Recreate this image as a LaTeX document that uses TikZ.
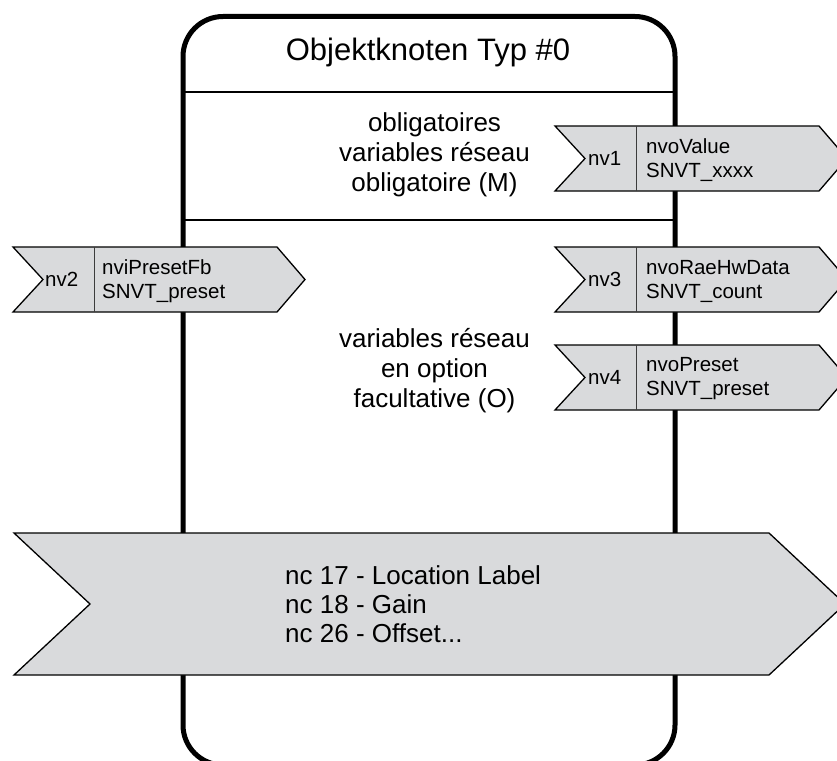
\documentclass[tikz,border=0pt]{standalone}
\usepackage{fontspec}
\setmainfont{Liberation Sans}
\usetikzlibrary{positioning,calc}
\definecolor{sigfill}{RGB}{217,218,220}
\definecolor{divgray}{RGB}{60,60,60}

\begin{document}
\begin{tikzpicture}[
  x = 1pt,
  y = -1pt,
  frame/.style = {
    draw,
    line width = 5pt,
    rounded corners = 40pt,
  },
  rule/.style = {
    draw,
    line width = 2pt,
  },
  sig/.style = {
    draw,
    fill = sigfill,
    line width = 1.3pt,
    line join = miter,
  },
  divline/.style = {
    draw = divgray,
    line width = 1pt,
  },
  heading/.style = {font = \fontsize{31}{37}\selectfont},
  section/.style = {align = center, font = \fontsize{26}{30}\selectfont},
  tag/.style = {inner sep = 0pt, anchor = west, font = \fontsize{20.5}{24}\selectfont},
  varname/.style = {inner sep = 0pt, anchor = west, align = left, font = \fontsize{20.5}{24}\selectfont},
  nclist/.style = {inner sep = 0pt, anchor = west, align = left, font = \fontsize{26}{29}\selectfont},
]

  \useasboundingbox (0,0) rectangle (837,760);

  % object node frame
  \draw[frame] (183,16.5) rectangle (675,765);
  \node[heading] (title) at (428,52) {Objektknoten Typ \#0};

  \draw[rule] (183,92) -- (675,92);
  \draw[rule] (183,220) -- (675,220);

  \node[section] (mand) at (434.5,155) {obligatoires\\variables réseau\\obligatoire (M)};
  \node[section] (opt) at (434.5,371) {variables réseau\\en option\\facultative (O)};

  % nv1
  \draw[sig] (555,126) -- ++(264,0) -- ++(28,32.5) -- ++(-28,32.5) -- ++(-264,0) -- ++(30,-32.5) -- cycle;
  \draw[divline] (636,126) -- ++(0,65);
  \node[tag] (nv1) at (588,158.5) {nv1};
  \node[varname] (nv1var) at (646,160) {nvoValue\\SNVT\_xxxx};

  % nv2
  \draw[sig] (13,247) -- ++(264,0) -- ++(28,32.5) -- ++(-28,32.5) -- ++(-264,0) -- ++(30,-32.5) -- cycle;
  \draw[divline] (94,247) -- ++(0,65);
  \node[tag] (nv2) at (45,279.5) {nv2};
  \node[varname] (nv2var) at (102,281) {nviPresetFb\\SNVT\_preset};

  % nv3
  \draw[sig] (555,247) -- ++(264,0) -- ++(28,32.5) -- ++(-28,32.5) -- ++(-264,0) -- ++(30,-32.5) -- cycle;
  \draw[divline] (636,247) -- ++(0,65);
  \node[tag] (nv3) at (588,279.5) {nv3};
  \node[varname] (nv3var) at (646,281) {nvoRaeHwData\\SNVT\_count};

  % nv4
  \draw[sig] (555,345) -- ++(264,0) -- ++(28,32.5) -- ++(-28,32.5) -- ++(-264,0) -- ++(30,-32.5) -- cycle;
  \draw[divline] (636,345) -- ++(0,65);
  \node[tag] (nv4) at (588,377.5) {nv4};
  \node[varname] (nv4var) at (646,379) {nvoPreset\\SNVT\_preset};

  % configuration properties
  \draw[sig] (14,533) -- ++(755,0) -- ++(76,71) -- ++(-76,71) -- ++(-755,0) -- ++(76,-71) -- cycle;
  \node[nclist] (nc) at (285,604) {nc 17 - Location Label\\nc 18 - Gain\\nc 26 - Offset...};

\end{tikzpicture}
\end{document}
